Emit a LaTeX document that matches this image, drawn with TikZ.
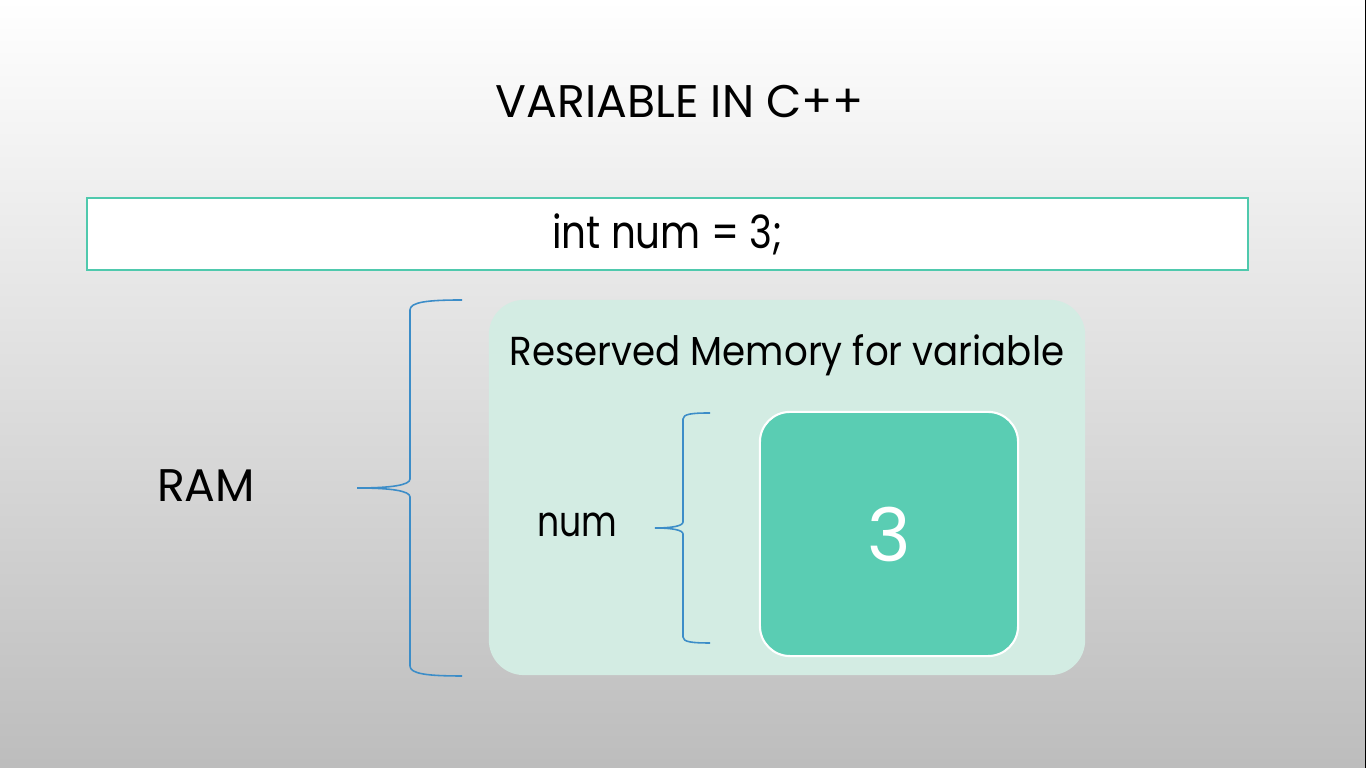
\documentclass[tikz,border=0pt]{standalone}
\usepackage{fontspec}
\setmainfont{Poppins}
\newfontfamily\codefont{Poppins}[FakeStretch=0.85]
\newfontfamily\memfont{Poppins}[FakeStretch=0.92]
\newfontfamily\numfont{Poppins}[FakeStretch=0.82]
\usetikzlibrary{positioning}
\definecolor{tealline}{HTML}{4FC9AD}
\definecolor{memfill}{HTML}{D3ECE3}
\definecolor{valfill}{HTML}{5ACDB3}
\definecolor{bracecol}{HTML}{3C8DC8}
\tikzset{
  txt/.style={text=black,inner sep=0pt},
  codebox/.style={draw=tealline,line width=0.6pt,fill=white,inner sep=0pt},
  memblock/.style={fill=memfill,rounded corners=0.35cm,inner sep=0pt},
  valblock/.style={fill=valfill,draw=white,line width=0.6pt,rounded corners=0.3cm,inner sep=0pt},
  bracket/.style={draw=bracecol,line width=0.45pt},
}

\begin{document}
\begin{tikzpicture}[x=0.01cm,y=-0.01cm]
  \useasboundingbox (0,0) rectangle (1366,768);
  % slide background
  \shade[top color=white,bottom color=black!26] (0,0) rectangle (1366,768);
  \draw[black,line width=0.4pt] (1365.5,0) -- (1365.5,768);

  \node[txt,font=\fontsize{13}{15}\selectfont] (title) at (680,102) {VARIABLE IN C++};
  \node[codebox,minimum width=11.61cm,minimum height=0.72cm,
        font=\codefont\fontsize{13}{15}\selectfont] (code) at (667.5,234) {int num = 3;};

  \node[memblock,minimum width=5.96cm,minimum height=3.75cm] (mem) at (787,487.5) {};
  \node[txt,font=\memfont\fontsize{11.5}{14}\selectfont] (memtitle) at (787,355) {Reserved Memory for variable};
  \node[valblock,minimum width=2.58cm,minimum height=2.44cm,text=white,
        font=\fontsize{21}{24}\selectfont] (val) at (889,534) {3};

  \node[txt,font=\numfont\fontsize{12}{14}\selectfont] (num) at (577,525) {num};
  \node[txt,font=\fontsize{13}{15}\selectfont] (ram) at (206,486) {RAM};

  % braces
  \coordinate (ramtip) at (357,488);
  \coordinate (numtip) at (655,528);
  \draw[bracket] (462,300) .. controls (428,300) and (410,302) .. (410,310) -- (410,479)
    .. controls (410,485) and (392,488) .. (ramtip)
    .. controls (392,488) and (410,491) .. (410,497) -- (410,666)
    .. controls (410,674) and (428,676) .. (462,676);
  \draw[bracket] (710,413) .. controls (692,413) and (683,414) .. (683,419) -- (683,522)
    .. controls (683,526) and (672,528) .. (numtip)
    .. controls (672,528) and (683,530) .. (683,534) -- (683,637)
    .. controls (683,642) and (692,643) .. (710,643);
\end{tikzpicture}
\end{document}
